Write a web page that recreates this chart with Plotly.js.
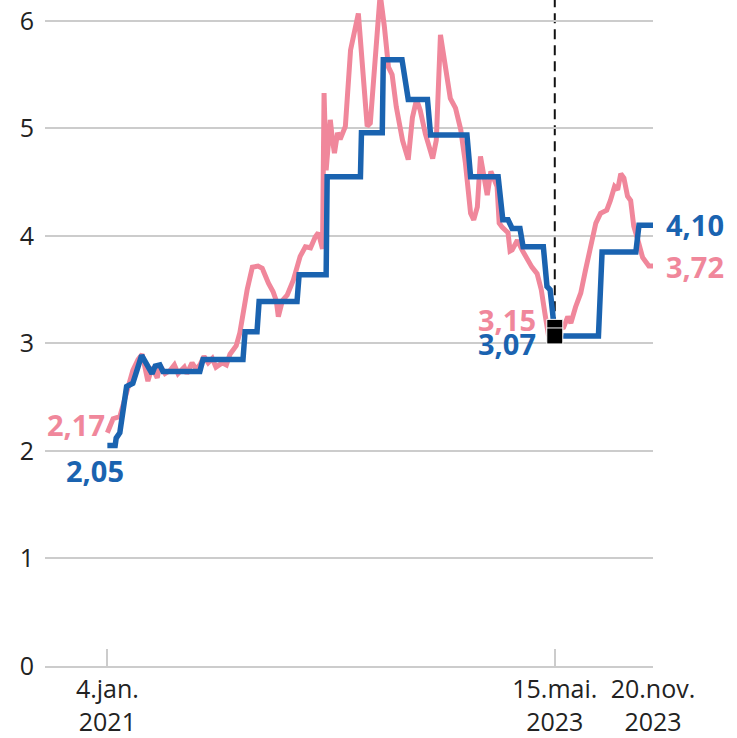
<!DOCTYPE html>
<html>
<head>
<meta charset="utf-8">
<script src="https://cdn.plot.ly/plotly-3.0.1.min.js"></script>
<style>
  html, body { margin: 0; padding: 0; background: #ffffff; }
  #chart { width: 737px; height: 738px; }
</style>
</head>
<body>
<div id="chart"></div>
<script>
// ---- Data ----
const pinkDates = [
  '2021-01-04','2021-01-15','2021-01-28','2021-02-13','2021-02-22','2021-03-04','2021-03-12','2021-03-23',
  '2021-03-31','2021-04-10','2021-04-15','2021-04-25','2021-05-05','2021-05-13','2021-05-20','2021-06-01',
  '2021-06-06','2021-06-16','2021-06-24','2021-07-01','2021-07-09','2021-07-17','2021-07-25','2021-08-01',
  '2021-08-13','2021-08-21','2021-08-28','2021-09-09','2021-09-16','2021-09-30','2021-10-10','2021-10-21',
  '2021-10-29','2021-11-10','2021-11-19','2021-11-25','2021-11-29','2021-12-07','2021-12-16','2021-12-28',
  '2022-01-10','2022-01-20','2022-01-30','2022-02-08','2022-02-14','2022-02-22','2022-02-25','2022-03-01',
  '2022-03-09','2022-03-13','2022-03-17','2022-03-23','2022-03-28','2022-04-07','2022-04-17','2022-05-02',
  '2022-05-12','2022-05-19','2022-05-25','2022-06-04','2022-06-13','2022-06-21','2022-06-29','2022-07-06',
  '2022-07-14','2022-07-26','2022-08-06','2022-08-14','2022-08-22','2022-08-29','2022-09-08','2022-09-22',
  '2022-09-29','2022-10-07','2022-10-17','2022-10-26','2022-11-05','2022-11-15','2022-11-24','2022-12-04',
  '2022-12-10','2022-12-17','2022-12-23','2022-12-29','2023-01-05','2023-01-12','2023-01-24','2023-01-28',
  '2023-02-03','2023-02-14','2023-02-18','2023-02-22','2023-03-04','2023-03-13','2023-03-23','2023-04-01',
  '2023-04-11','2023-04-19','2023-04-26','2023-05-02','2023-05-10','2023-05-15','2023-05-22','2023-06-01',
  '2023-06-09','2023-06-15','2023-06-24','2023-07-04','2023-07-13','2023-07-23','2023-08-02','2023-08-11',
  '2023-08-23','2023-08-30','2023-09-07','2023-09-13','2023-09-19','2023-09-25','2023-10-02','2023-10-08',
  '2023-10-14','2023-10-22','2023-10-31','2023-11-12','2023-11-20'
];
const pinkValues = [
  2.17,2.30,2.32,2.60,2.75,2.85,2.90,2.65,
  2.78,2.68,2.80,2.72,2.75,2.80,2.72,2.78,
  2.72,2.82,2.76,2.80,2.88,2.82,2.86,2.78,
  2.82,2.80,2.90,2.98,3.10,3.50,3.71,3.72,
  3.70,3.56,3.48,3.40,3.25,3.40,3.45,3.59,
  3.81,3.90,3.89,3.99,4.03,3.88,5.33,4.61,
  5.08,4.90,4.77,4.96,4.90,5.02,5.73,6.07,
  5.42,5.02,5.05,5.73,6.25,5.95,5.57,5.50,
  5.20,4.89,4.71,5.10,5.27,5.17,4.95,4.72,
  4.89,5.87,5.57,5.28,5.19,4.99,4.68,4.21,
  4.15,4.27,4.74,4.55,4.38,4.60,4.46,4.12,
  4.08,4.03,3.86,3.87,3.96,3.87,3.78,3.71,
  3.65,3.50,3.28,3.10,3.12,3.15,3.13,3.15,
  3.25,3.19,3.34,3.47,3.68,3.90,4.12,4.21,
  4.24,4.33,4.46,4.43,4.58,4.54,4.37,4.33,
  4.09,3.96,3.80,3.72,3.72
];

const blueDates = [
  '2021-01-04','2021-01-19','2021-01-21','2021-01-28','2021-02-10','2021-02-22','2021-03-11','2021-03-23',
  '2021-03-31','2021-04-06','2021-04-15','2021-04-21','2021-07-01','2021-07-07','2021-09-22','2021-09-26',
  '2021-10-19','2021-10-23','2022-01-04','2022-01-08','2022-03-01','2022-03-03','2022-05-06','2022-05-08',
  '2022-06-17','2022-06-19','2022-07-25','2022-08-06','2022-09-12','2022-09-18','2022-11-27','2022-12-04',
  '2023-01-26','2023-02-04','2023-02-14','2023-02-22','2023-03-09','2023-03-15','2023-04-23','2023-04-30',
  '2023-05-06','2023-05-11','2023-05-15','2023-08-07','2023-08-14','2023-10-18','2023-10-24','2023-11-20'
];
const blueValues = [
  2.05,2.05,2.12,2.17,2.60,2.63,2.89,2.78,
  2.72,2.79,2.80,2.74,2.74,2.85,2.85,3.11,
  3.11,3.39,3.39,3.64,3.64,4.55,4.55,4.96,
  4.96,5.64,5.64,5.27,5.27,4.94,4.94,4.55,
  4.55,4.15,4.15,4.07,4.07,3.90,3.90,3.53,
  3.50,3.28,3.07,3.07,3.85,3.85,4.10,4.10
];

const markerDate = '2023-05-15';
const markerValues = [3.15, 3.07];

const xTickDates = ['2021-01-04', '2023-05-15', '2023-11-20'];
const xTickLabels = ['4.jan.<br>2021', '15.mai.<br>2023', '20.nov.<br>2023'];
const yTickValues = [0, 1, 2, 3, 4, 5, 6];

// value labels
const labelTexts  = ['2,17', '2,05', '3,15', '3,07', '4,10', '3,72'];
const labelDates  = ['2021-01-04', '2021-01-04', '2023-05-15', '2023-05-15', '2023-11-20', '2023-11-20'];
const labelValues = [2.17, 2.05, 3.15, 3.07, 4.10, 3.72];

// ---- Styling ----
const PINK = '#f0879b';
const BLUE = '#1a63b0';
const FONT = 'Open Sans, Noto Sans, sans-serif';

const traces = [
  {
    x: pinkDates, y: pinkValues, type: 'scatter', mode: 'lines',
    line: { color: PINK, width: 5, shape: 'linear' },
    hoverinfo: 'skip'
  },
  {
    x: blueDates, y: blueValues, type: 'scatter', mode: 'lines',
    line: { color: BLUE, width: 5.5, shape: 'linear' },
    hoverinfo: 'skip'
  },
  {
    x: [markerDate, markerDate], y: markerValues, type: 'scatter', mode: 'markers',
    marker: { symbol: 'square', size: 16, color: '#000000', line: { color: '#ffffff', width: 1 } },
    hoverinfo: 'skip', cliponaxis: false
  }
];

const labelStyle = [
  { color: PINK, xanchor: 'right',  yanchor: 'middle', xshift: 0,   yshift: 8 },
  { color: BLUE, xanchor: 'center', yanchor: 'middle', xshift: -12, yshift: -25 },
  { color: PINK, xanchor: 'right',  yanchor: 'middle', xshift: -17, yshift: 8 },
  { color: BLUE, xanchor: 'right',  yanchor: 'middle', xshift: -17, yshift: -8 },
  { color: BLUE, xanchor: 'left',   yanchor: 'middle', xshift: 11,  yshift: 1 },
  { color: PINK, xanchor: 'left',   yanchor: 'middle', xshift: 11,  yshift: 0 }
];

const annotations = labelTexts.map((t, i) => ({
  x: labelDates[i], y: labelValues[i], xref: 'x', yref: 'y',
  text: '<b>' + t + '</b>', showarrow: false,
  xanchor: labelStyle[i].xanchor, yanchor: labelStyle[i].yanchor,
  xshift: labelStyle[i].xshift, yshift: labelStyle[i].yshift,
  font: { family: FONT, size: 29, color: labelStyle[i].color }
}));

const layout = {
  width: 737, height: 738,
  margin: { l: 45, r: 84, t: 0, b: 72, pad: 0 },
  paper_bgcolor: '#ffffff', plot_bgcolor: '#ffffff',
  showlegend: false,
  font: { family: FONT, color: '#222222', size: 25 },
  xaxis: {
    type: 'date',
    range: ['2020-09-06', '2023-11-20'],
    tickmode: 'array', tickvals: xTickDates, ticktext: xTickLabels,
    showgrid: false, zeroline: false,
    showline: true, linecolor: '#cccccc', linewidth: 2,
    ticks: 'inside', ticklen: 17, tickwidth: 2, tickcolor: '#cccccc',
    tickfont: { family: FONT, size: 25, color: '#222222' },
    fixedrange: true
  },
  yaxis: {
    range: [0, 6.195],
    tickmode: 'array', tickvals: yTickValues,
    showgrid: true, gridcolor: '#cccccc', gridwidth: 2,
    zeroline: false, showline: false, ticks: '',
    ticklabelstandoff: 10,
    tickfont: { family: FONT, size: 25, color: '#222222' },
    fixedrange: true
  },
  shapes: [
    {
      type: 'line', xref: 'x', yref: 'y',
      x0: markerDate, x1: markerDate, y0: markerValues[0], y1: 6.195,
      line: { color: '#111111', width: 2, dash: '10px,6px' },
      layer: 'below'
    }
  ],
  annotations: annotations
};

Plotly.newPlot('chart', traces, layout, { displayModeBar: false, staticPlot: true });
</script>
</body>
</html>
